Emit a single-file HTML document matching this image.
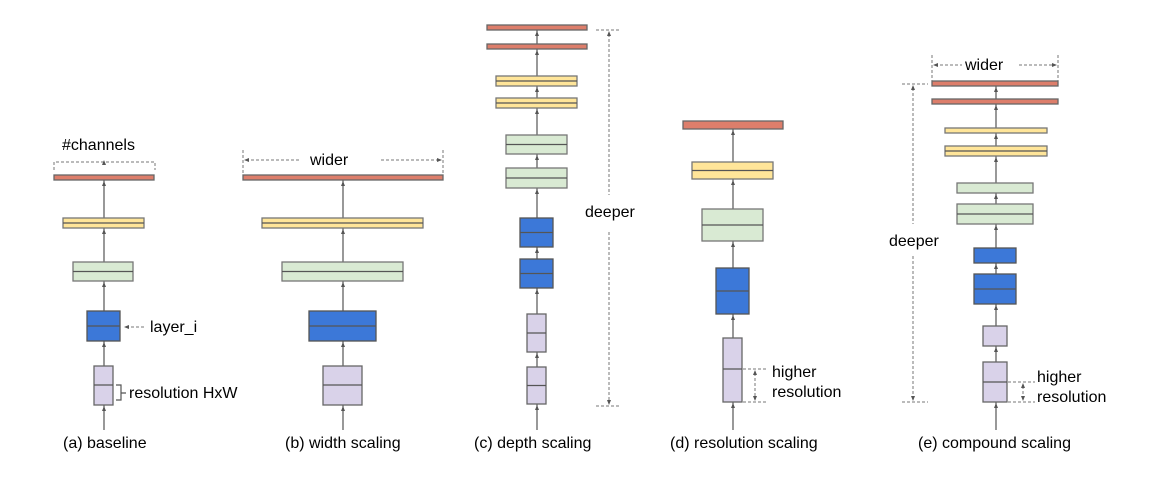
<!DOCTYPE html>
<html><head><meta charset="utf-8"><style>
html,body{margin:0;padding:0;background:#fff;}
svg{display:block;}
text{font-family:"Liberation Sans",Arial,sans-serif;fill:#000;font-size:16px;}
.r{fill:#dd7e6b;stroke:#666;stroke-width:1.3}
.y{fill:#ffe599;stroke:#777;stroke-width:1.3}
.g{fill:#d9ead3;stroke:#777;stroke-width:1.3}
.b{fill:#3c78d8;stroke:#555;stroke-width:1.3}
.p{fill:#d9d2e9;stroke:#666;stroke-width:1.3}
.m{stroke:#555;stroke-width:1.2}
.ln{stroke:#555;stroke-width:1.2}
.d{stroke:#777;stroke-width:1;stroke-dasharray:3,2;fill:none}
.ah{fill:#555}
</style></head><body>
<svg width="1161" height="485" viewBox="0 0 1161 485" xmlns="http://www.w3.org/2000/svg">
<!-- (a) -->
<line class="ln" x1="104" y1="430" x2="104" y2="180"/>
<rect class="r" x="54" y="175" width="100" height="5"/>
<rect class="y" x="63" y="218" width="81" height="10"/><line class="m" x1="63" y1="223" x2="144" y2="223"/>
<rect class="g" x="73" y="262" width="60" height="19"/><line class="m" x1="73" y1="271.5" x2="133" y2="271.5"/>
<rect class="b" x="87" y="311" width="33" height="30"/><line class="m" x1="87" y1="326" x2="120" y2="326" stroke-width="1.5"/>
<rect class="p" x="94" y="366" width="19" height="39"/><line class="m" x1="94" y1="385" x2="113" y2="385"/>
<polygon class="ah" points="102,186 106,186 104,181"/><polygon class="ah" points="102,234 106,234 104,229"/><polygon class="ah" points="102,287 106,287 104,282"/><polygon class="ah" points="102,347 106,347 104,342"/><polygon class="ah" points="102,411 106,411 104,406"/>
<path class="d" d="M54,170 V162 H155 V170"/>
<polygon class="ah" points="102,165 106,165 104,160"/>
<text x="62" y="150">#channels</text>
<line class="d" x1="126" y1="327" x2="146" y2="327"/><polygon class="ah" points="124,327 129,325 129,329"/>
<text x="150" y="332">layer_i</text>
<path d="M116,385 H121 V400 H116 M121,393 H126" fill="none" stroke="#555" stroke-width="1.2"/>
<text x="129" y="398">resolution HxW</text>
<text x="63" y="448">(a) baseline</text>

<!-- (b) -->
<line class="ln" x1="343" y1="430" x2="343" y2="180"/>
<rect class="r" x="243" y="175" width="200" height="5"/>
<rect class="y" x="262" y="218" width="161" height="10"/><line class="m" x1="262" y1="223" x2="423" y2="223"/>
<rect class="g" x="282" y="262" width="121" height="19"/><line class="m" x1="282" y1="271.5" x2="403" y2="271.5"/>
<rect class="b" x="309" y="311" width="67" height="30"/><line class="m" x1="309" y1="326" x2="376" y2="326" stroke-width="1.5"/>
<rect class="p" x="323" y="366" width="39" height="39"/><line class="m" x1="323" y1="385" x2="362" y2="385"/>
<polygon class="ah" points="341,186 345,186 343,181"/><polygon class="ah" points="341,234 345,234 343,229"/><polygon class="ah" points="341,287 345,287 343,282"/><polygon class="ah" points="341,347 345,347 343,342"/><polygon class="ah" points="341,411 345,411 343,406"/>
<line class="d" x1="243" y1="150" x2="243" y2="175"/><line class="d" x1="443" y1="150" x2="443" y2="175"/>
<line class="d" x1="246" y1="160" x2="300" y2="160"/><line class="d" x1="381" y1="160" x2="440" y2="160"/>
<polygon class="ah" points="244,160 249,158 249,162"/><polygon class="ah" points="442,160 437,158 437,162"/>
<text x="310" y="165">wider</text>
<text x="285" y="448">(b) width scaling</text>

<!-- (c) -->
<line class="ln" x1="537" y1="430" x2="537" y2="30"/>
<rect class="r" x="487" y="25" width="100" height="5"/>
<rect class="r" x="487" y="44" width="100" height="5"/>
<rect class="y" x="496" y="76" width="81" height="10"/><line class="m" x1="496" y1="81" x2="577" y2="81"/>
<rect class="y" x="496" y="98" width="81" height="10"/><line class="m" x1="496" y1="103" x2="577" y2="103"/>
<rect class="g" x="506" y="135" width="61" height="19"/><line class="m" x1="506" y1="144.5" x2="567" y2="144.5"/>
<rect class="g" x="506" y="168" width="61" height="20"/><line class="m" x1="506" y1="178" x2="567" y2="178"/>
<rect class="b" x="520" y="218" width="33" height="29"/><line class="m" x1="520" y1="232.5" x2="553" y2="232.5" stroke-width="1.5"/>
<rect class="b" x="520" y="259" width="33" height="29"/><line class="m" x1="520" y1="273.5" x2="553" y2="273.5" stroke-width="1.5"/>
<rect class="p" x="527" y="314" width="19" height="38"/><line class="m" x1="527" y1="333" x2="546" y2="333"/>
<rect class="p" x="527" y="367" width="19" height="37"/><line class="m" x1="527" y1="385.5" x2="546" y2="385.5"/>
<polygon class="ah" points="535,36 539,36 537,31"/><polygon class="ah" points="535,55 539,55 537,50"/><polygon class="ah" points="535,92 539,92 537,87"/><polygon class="ah" points="535,114 539,114 537,109"/><polygon class="ah" points="535,160 539,160 537,155"/><polygon class="ah" points="535,194 539,194 537,189"/><polygon class="ah" points="535,253 539,253 537,248"/><polygon class="ah" points="535,294 539,294 537,289"/><polygon class="ah" points="535,358 539,358 537,353"/><polygon class="ah" points="535,410 539,410 537,405"/>
<line class="d" x1="596" y1="30" x2="620" y2="30"/><line class="d" x1="596" y1="406" x2="620" y2="406"/>
<line class="d" x1="609" y1="34" x2="609" y2="195"/><line class="d" x1="609" y1="232" x2="609" y2="402"/>
<polygon class="ah" points="607,36 611,36 609,31"/><polygon class="ah" points="607,400 611,400 609,405"/>
<text x="585" y="217">deeper</text>
<text x="474" y="448">(c) depth scaling</text>

<!-- (d) -->
<line class="ln" x1="733" y1="430" x2="733" y2="129"/>
<rect class="r" x="683" y="121" width="100" height="8"/>
<rect class="y" x="692" y="162" width="81" height="17"/><line class="m" x1="692" y1="170.5" x2="773" y2="170.5"/>
<rect class="g" x="702" y="209" width="61" height="32"/><line class="m" x1="702" y1="225" x2="763" y2="225"/>
<rect class="b" x="716" y="268" width="33" height="46"/><line class="m" x1="716" y1="291" x2="749" y2="291" stroke-width="1.5"/>
<rect class="p" x="723" y="338" width="19" height="64"/><line class="m" x1="723" y1="369" x2="742" y2="369"/>
<polygon class="ah" points="731,135 735,135 733,130"/><polygon class="ah" points="731,185 735,185 733,180"/><polygon class="ah" points="731,247 735,247 733,242"/><polygon class="ah" points="731,320 735,320 733,315"/><polygon class="ah" points="731,408 735,408 733,403"/>
<line class="d" x1="743" y1="369" x2="768" y2="369"/><line class="d" x1="743" y1="402" x2="768" y2="402"/>
<line class="d" x1="755" y1="373" x2="755" y2="398"/>
<polygon class="ah" points="753,375 757,375 755,370"/><polygon class="ah" points="753,396 757,396 755,401"/>
<text x="772" y="377">higher</text>
<text x="772" y="397">resolution</text>
<text x="670" y="448">(d) resolution scaling</text>

<!-- (e) -->
<line class="ln" x1="996" y1="430" x2="996" y2="86"/>
<rect class="r" x="932" y="81" width="126" height="5"/>
<rect class="r" x="932" y="99" width="126" height="5"/>
<rect class="y" x="945" y="128" width="102" height="5"/>
<rect class="y" x="945" y="146" width="102" height="10"/><line class="m" x1="945" y1="151" x2="1047" y2="151"/>
<rect class="g" x="957" y="183" width="76" height="10"/>
<rect class="g" x="957" y="204" width="76" height="20"/><line class="m" x1="957" y1="214" x2="1033" y2="214"/>
<rect class="b" x="974" y="248" width="42" height="15"/>
<rect class="b" x="974" y="274" width="42" height="30"/><line class="m" x1="974" y1="289" x2="1016" y2="289" stroke-width="1.5"/>
<rect class="p" x="983" y="326" width="24" height="20"/>
<rect class="p" x="983" y="362" width="24" height="40"/><line class="m" x1="983" y1="382" x2="1007" y2="382"/>
<polygon class="ah" points="994,92 998,92 996,87"/><polygon class="ah" points="994,110 998,110 996,105"/><polygon class="ah" points="994,139 998,139 996,134"/><polygon class="ah" points="994,162 998,162 996,157"/><polygon class="ah" points="994,199 998,199 996,194"/><polygon class="ah" points="994,230 998,230 996,225"/><polygon class="ah" points="994,269 998,269 996,264"/><polygon class="ah" points="994,310 998,310 996,305"/><polygon class="ah" points="994,352 998,352 996,347"/><polygon class="ah" points="994,408 998,408 996,403"/>
<line class="d" x1="932" y1="55" x2="932" y2="81"/><line class="d" x1="1058" y1="55" x2="1058" y2="81"/>
<line class="d" x1="935" y1="65" x2="962" y2="65"/><line class="d" x1="1019" y1="65" x2="1055" y2="65"/>
<polygon class="ah" points="933,65 938,63 938,67"/><polygon class="ah" points="1057,65 1052,63 1052,67"/>
<text x="965" y="70">wider</text>
<line class="d" x1="902" y1="84" x2="928" y2="84"/><line class="d" x1="902" y1="402" x2="928" y2="402"/>
<line class="d" x1="913" y1="88" x2="913" y2="224"/><line class="d" x1="913" y1="256" x2="913" y2="398"/>
<polygon class="ah" points="911,90 915,90 913,85"/><polygon class="ah" points="911,396 915,396 913,401"/>
<text x="889" y="246">deeper</text>
<line class="d" x1="1008" y1="382" x2="1035" y2="382"/><line class="d" x1="1008" y1="402" x2="1035" y2="402"/>
<line class="d" x1="1023" y1="386" x2="1023" y2="398"/>
<polygon class="ah" points="1021,388 1025,388 1023,383"/><polygon class="ah" points="1021,396 1025,396 1023,401"/>
<text x="1037" y="382">higher</text>
<text x="1037" y="402">resolution</text>
<text x="918" y="448">(e) compound scaling</text>
</svg>
</body></html>
